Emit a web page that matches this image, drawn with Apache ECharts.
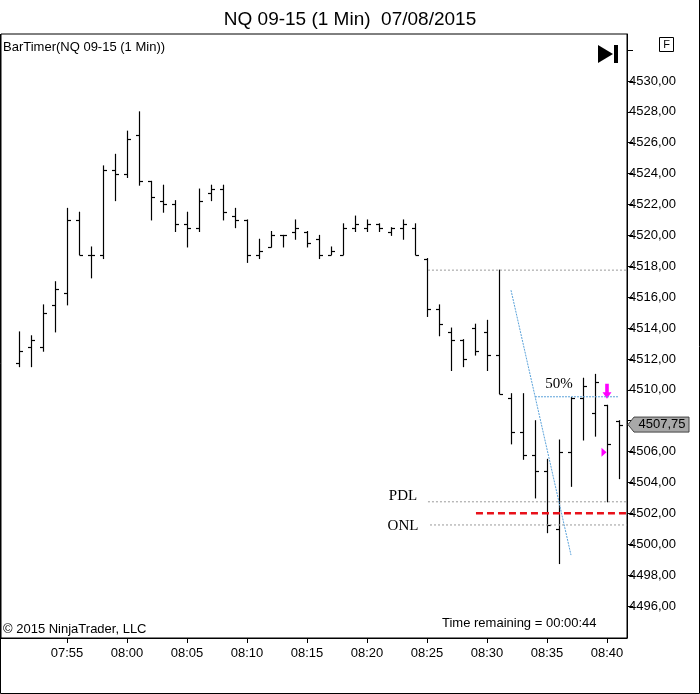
<!DOCTYPE html>
<html>
<head>
<meta charset="UTF-8" />
<title>NQ 09-15 (1 Min)</title>
<style>
  html, body { margin: 0; padding: 0; background: #fff; }
  #container { width: 700px; height: 694px; }
</style>
</head>
<body>
<div id="container"></div>
<script src="https://cdn.jsdelivr.net/npm/echarts@6/dist/echarts.min.js"></script>
<script type="text/javascript">

    // 1 minute bars, 07:51 .. 08:41
    var times = ['07:51','07:52','07:53','07:54','07:55','07:56','07:57','07:58','07:59','08:00',
                 '08:01','08:02','08:03','08:04','08:05','08:06','08:07','08:08','08:09','08:10',
                 '08:11','08:12','08:13','08:14','08:15','08:16','08:17','08:18','08:19','08:20',
                 '08:21','08:22','08:23','08:24','08:25','08:26','08:27','08:28','08:29','08:30',
                 '08:31','08:32','08:33','08:34','08:35','08:36','08:37','08:38','08:39','08:40',
                 '08:41'];

    var opens  = [4511.75,4512.75,4512.75,4515.5,4516.25,4521.0,4518.75,4518.75,4524.25,4524.0,
                  4526.5,4523.5,4522.25,4522.0,4520.75,4520.5,4522.75,4523.0,4521.25,4521.0,
                  4518.75,4519.25,4520.0,4520.25,4520.25,4519.75,4518.75,4518.75,4520.5,4520.5,
                  4520.75,4520.25,4520.5,4520.5,4518.5,4515.25,4513.75,4513.25,4514.0,4513.75,
                  4512.25,4509.5,4507.25,4505.75,4504.75,4501.0,4506.0,4509.5,4508.5,4509.0,
                  4508.0];
    var highs  = [4513.75,4513.5,4515.5,4517.0,4521.75,4521.5,4519.25,4524.5,4525.25,4526.75,
                  4528.0,4523.5,4523.25,4522.25,4521.5,4523.0,4523.25,4523.25,4521.75,4521.0,
                  4519.75,4520.25,4520.0,4521.0,4520.25,4520.0,4519.25,4520.75,4521.25,4521.0,
                  4520.75,4520.5,4521.0,4520.75,4518.5,4515.5,4514.0,4513.25,4514.25,4514.5,
                  4517.75,4509.75,4509.75,4508.0,4505.5,4506.75,4509.5,4510.75,4511.0,4509.0,
                  4508.0];
    var lows   = [4511.5,4511.5,4512.5,4513.75,4515.5,4518.75,4517.25,4518.5,4522.25,4523.75,
                  4523.25,4521.0,4521.5,4520.25,4519.25,4520.25,4522.25,4521.0,4520.5,4518.25,
                  4518.5,4519.25,4519.25,4519.75,4519.25,4518.5,4518.75,4518.75,4520.25,4520.25,
                  4520.25,4520.0,4519.75,4518.75,4514.75,4513.5,4511.25,4511.5,4512.25,4511.25,
                  4509.75,4506.5,4505.5,4503.0,4500.75,4498.75,4503.75,4506.75,4507.0,4502.75,
                  4504.25];
    var closes = [4512.5,4513.25,4515.0,4516.5,4521.0,4518.75,4518.75,4524.25,4524.0,4526.25,
                  4523.5,4522.5,4522.0,4520.75,4520.5,4522.25,4523.0,4521.5,4521.0,4518.75,
                  4519.0,4520.0,4520.0,4520.5,4519.5,4518.75,4519.0,4520.5,4520.75,4520.75,
                  4520.5,4520.5,4520.75,4518.75,4515.25,4514.25,4513.25,4512.0,4512.5,4512.25,
                  4509.75,4507.25,4505.75,4504.75,4501.25,4506.0,4509.5,4510.25,4510.5,4506.5,
                  4507.75];

    // axis ticks (4508 label sits under the price tag, 4532 under the F box)
    var xTickIdx = [4, 9, 14, 19, 24, 29, 34, 39, 44, 49];
    var yTicks = [4496,4498,4500,4502,4504,4506,4508,4510,4512,4514,4516,4518,4520,
                  4522,4524,4526,4528,4530,4532];
    var yLabels = [4496,4498,4500,4502,4504,4506,4510,4512,4514,4516,4518,4520,
                   4522,4524,4526,4528,4530];

    // drawn objects (bar index, price)
    var priorHigh = [[34.08, 4517.75], [50.67, 4517.75]];
    var pdlLine = [[34.08, 4502.75], [50.67, 4502.75]];
    var onlLine = [[34.25, 4501.25], [50.67, 4501.25]];
    var redLine = [[38.08, 4502.0], [50.67, 4502.0]];
    var trendLine = [[41.0, 4516.45], [46.0, 4499.3]];
    var halfLine = [[43.0, 4509.55], [49.92, 4509.55]];
    var textMarks = [
        {name: 'PDL', value: [32.0, 4503.15]},
        {name: 'ONL', value: [32.0, 4501.2]},
        {name: '50%', value: [45.0, 4510.4]}
    ];
    var arrowMark = [[49.0, 4509.9]];
    var triMark = [[48.75, 4505.95]];

    var sans = 'Liberation Sans';
    var serif = 'Liberation Serif';

    var barData = [];
    for (var i = 0; i < times.length; i++) {
        barData.push([i, opens[i], highs[i], lows[i], closes[i]]);
    }

    function fmtPrice(v) {
        return v.toFixed(2).replace('.', ',');
    }

    // OHLC bar: vertical high-low, open tick left, close tick right
    function renderBar(params, api) {
        var x = api.value(0);
        var o = api.coord([x, api.value(1)]);
        var h = api.coord([x, api.value(2)]);
        var l = api.coord([x, api.value(3)]);
        var c = api.coord([x, api.value(4)]);
        var px = Math.round(h[0]) + 0.5;
        var st = {stroke: '#000', lineWidth: 1.2};
        return {
            type: 'group',
            children: [
                {type: 'line', shape: {x1: px, y1: h[1] - 0.5, x2: px, y2: l[1] + 0.5}, style: st},
                {type: 'line', shape: {x1: px - 3.5, y1: Math.round(o[1]) + 0.5, x2: px, y2: Math.round(o[1]) + 0.5}, style: st},
                {type: 'line', shape: {x1: px, y1: Math.round(c[1]) + 0.5, x2: px + 3.5, y2: Math.round(c[1]) + 0.5}, style: st}
            ]
        };
    }

    function lineSeries(data, color, width, type) {
        return {
            type: 'line',
            data: data,
            showSymbol: false,
            silent: true,
            animation: false,
            lineStyle: {color: color, width: width, type: type}
        };
    }

    var dom = document.getElementById('container');
    var myChart = echarts.init(dom);

    var option = {
        backgroundColor: '#fff',
        animation: false,
        title: {
            text: 'NQ 09-15 (1 Min)  07/08/2015',
            left: 'center',
            top: 5,
            textStyle: {fontFamily: sans, fontSize: 19, fontWeight: 'normal', color: '#000'}
        },
        grid: {
            left: 1, right: 73, top: 34, bottom: 56,
            show: true, borderColor: '#000', borderWidth: 1
        },
        xAxis: {
            type: 'value',
            min: -1.5,
            max: 50.6667,
            axisLine: {show: true, onZero: false, lineStyle: {color: '#000'}},
            axisTick: {show: true, length: 5, customValues: xTickIdx, lineStyle: {color: '#000'}},
            axisLabel: {
                customValues: xTickIdx,
                margin: 9,
                fontFamily: sans, fontSize: 13, color: '#000',
                formatter: function (v) { return times[Math.round(v)]; }
            },
            splitLine: {show: false}
        },
        yAxis: {
            type: 'value',
            position: 'right',
            min: 4493.93,
            max: 4533.04,
            axisLine: {show: true, onZero: false, lineStyle: {color: '#000'}},
            axisTick: {show: true, length: 6, customValues: yTicks, lineStyle: {color: '#000'}},
            axisLabel: {
                customValues: yLabels,
                margin: 2,
                fontFamily: sans, fontSize: 13, color: '#000',
                formatter: fmtPrice
            },
            splitLine: {show: false}
        },
        series: [
            lineSeries(priorHigh, '#9a9a9a', 1, [2, 2]),
            lineSeries(pdlLine, '#9a9a9a', 1, [2, 2]),
            lineSeries(onlLine, '#9a9a9a', 1, [2, 2]),
            lineSeries(redLine, '#e8101a', 2.5, [7, 4]),
            lineSeries(trendLine, '#5aa2da', 1, [2, 1]),
            lineSeries(halfLine, '#5aa2da', 1, [2, 1]),
            {
                type: 'custom',
                renderItem: renderBar,
                data: barData,
                encode: {x: 0, y: [1, 2, 3, 4]},
                silent: true,
                animation: false
            },
            {
                type: 'scatter',
                data: textMarks,
                symbolSize: 0,
                silent: true,
                itemStyle: {opacity: 1},
                label: {
                    show: true,
                    position: 'inside',
                    formatter: '{b}',
                    fontFamily: serif,
                    fontSize: 15,
                    color: '#000'
                }
            },
            {
                type: 'scatter',
                data: arrowMark,
                symbol: 'path://M3,0 L7,0 L7,9 L10,9 L5,16 L0,9 L3,9 Z',
                symbolSize: [9, 15],
                itemStyle: {color: '#ff00ff', opacity: 1},
                silent: true
            },
            {
                type: 'scatter',
                data: triMark,
                symbol: 'path://M0,0 L6,4.5 L0,9 Z',
                symbolSize: [5, 9],
                itemStyle: {color: '#ff00ff', opacity: 1},
                silent: true
            }
        ]
    };

    myChart.setOption(option, true);

    // price tag, header texts and frame
    var last = closes[closes.length - 1];
    var ty = myChart.convertToPixel({yAxisIndex: 0}, last);
    var ax = 627;

    myChart.setOption({
        graphic: [
            {
                type: 'polygon',
                shape: {points: [[ax + 1, ty], [ax + 7, ty - 7.5], [ax + 62, ty - 7.5], [ax + 62, ty + 7.5], [ax + 7, ty + 7.5]]},
                style: {fill: '#a8a8a8', stroke: '#444', lineWidth: 1},
                z: 10
            },
            {
                type: 'text',
                x: ax + 35, y: ty,
                style: {text: fmtPrice(last), fontFamily: sans, fontSize: 13, fill: '#000', align: 'center', verticalAlign: 'middle'},
                z: 11
            },
            {
                type: 'text', left: 3, top: 41,
                style: {text: 'BarTimer(NQ 09-15 (1 Min))', fontFamily: sans, fontSize: 13, fill: '#000'}
            },
            {
                type: 'text', left: 3, top: 623,
                style: {text: '\u00a9 2015 NinjaTrader, LLC', fontFamily: sans, fontSize: 13, fill: '#000'}
            },
            {
                type: 'text', left: 442, top: 617,
                style: {text: 'Time remaining = 00:00:44', fontFamily: sans, fontSize: 13, fill: '#000'}
            },
            {
                type: 'polygon',
                shape: {points: [[598, 45], [613, 54], [598, 63]]},
                style: {fill: '#000'}
            },
            {
                type: 'rect',
                shape: {x: 614, y: 45, width: 4, height: 18},
                style: {fill: '#000'}
            },
            {
                type: 'rect',
                shape: {x: 659.5, y: 37.5, width: 14, height: 14},
                style: {fill: '#fff', stroke: '#000', lineWidth: 1}
            },
            {
                type: 'text', x: 666.5, y: 45,
                style: {text: 'F', fontFamily: sans, fontSize: 11, fill: '#000', align: 'center', verticalAlign: 'middle'}
            },
            {
                type: 'polyline',
                shape: {points: [[0.5, 34], [0.5, 693.5], [699.5, 693.5], [699.5, 0]]},
                style: {stroke: '#000', lineWidth: 1, fill: null}
            }
        ]
    });
</script>
</body>
</html>
